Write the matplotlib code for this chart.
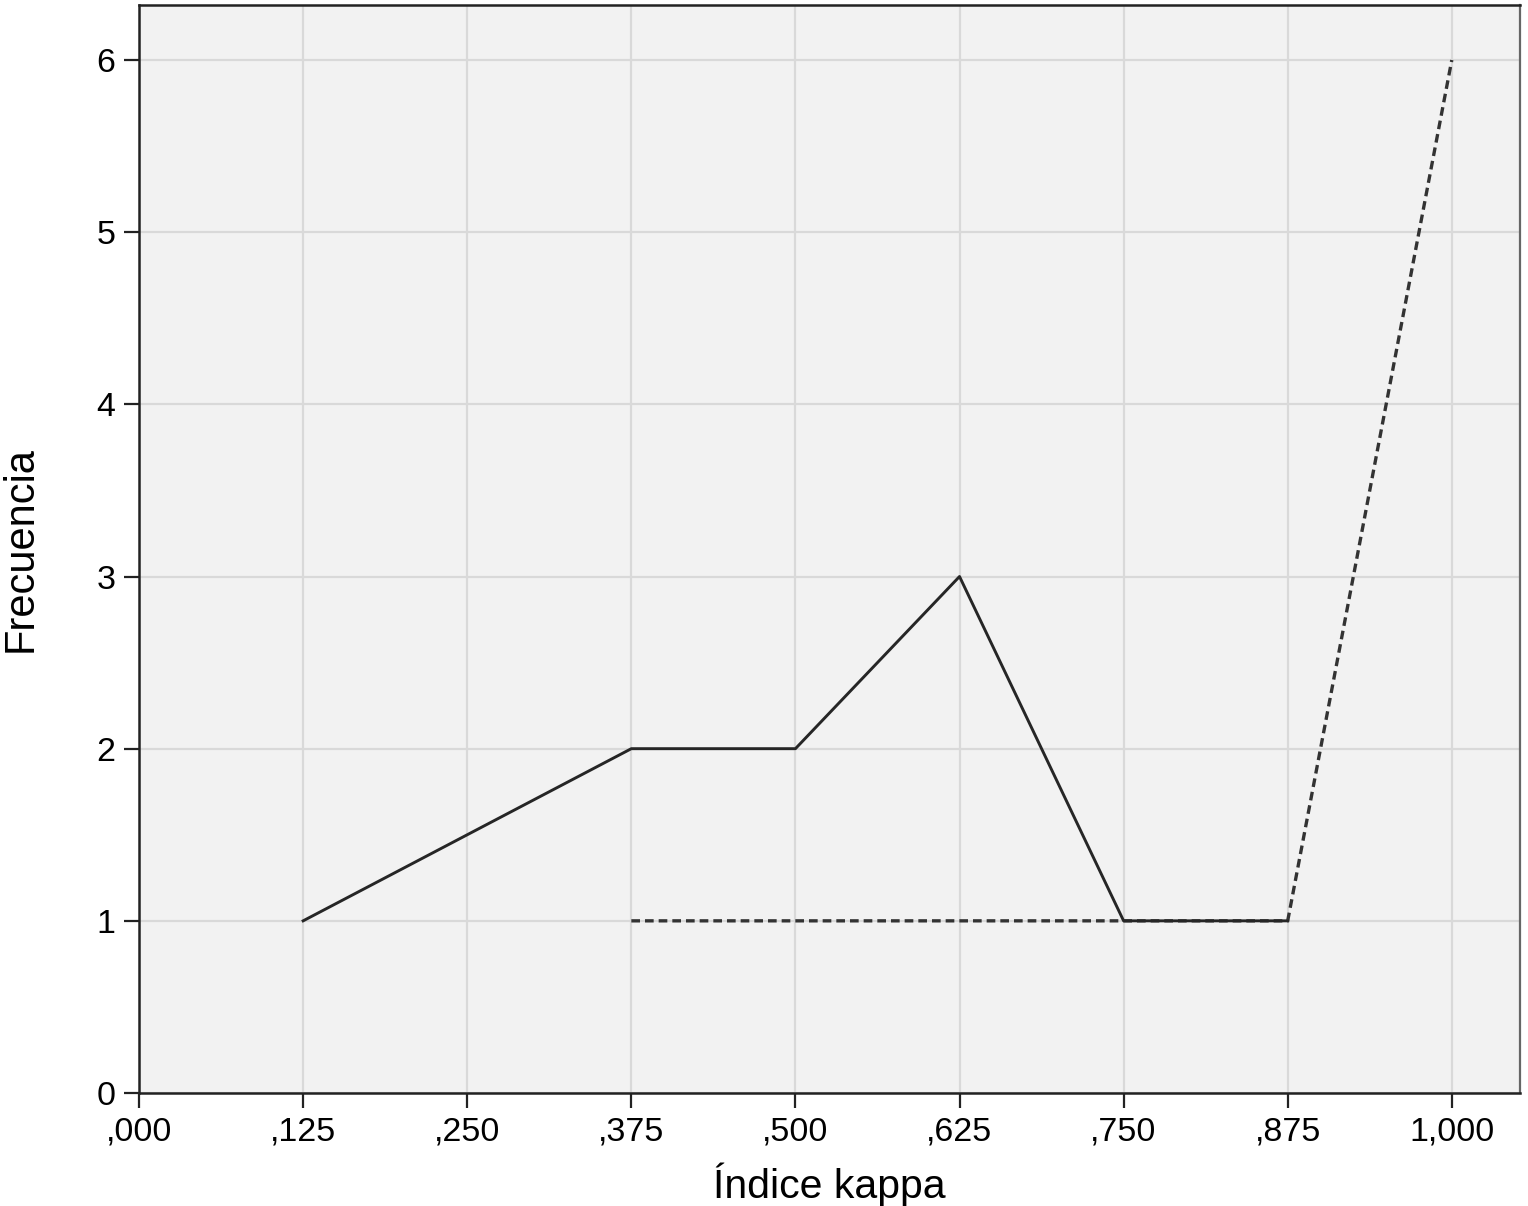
import matplotlib
matplotlib.use("Agg")
from matplotlib import pyplot as plt

plt.rcParams['font.family'] = ['Liberation Sans', 'DejaVu Sans']

# datos
x_solida = [0.125, 0.375, 0.500, 0.625, 0.750, 0.875]
y_solida = [1, 2, 2, 3, 1, 1]
x_puntos = [0.375, 0.500, 0.625, 0.750, 0.875, 1.000]
y_puntos = [1, 1, 1, 1, 1, 6]

ticks_x = [0, 0.125, 0.25, 0.375, 0.5, 0.625, 0.75, 0.875, 1.0]
etiquetas_x = [",000", ",125", ",250", ",375", ",500", ",625", ",750", ",875", "1,000"]
ticks_y = [0, 1, 2, 3, 4, 5, 6]

fig = plt.figure(figsize=(15.28, 12.06), dpi=100)
ax = fig.add_axes([0.091, 0.0937, 0.9038, 0.9022])
ax.set_facecolor("#f2f2f2")

ax.plot(x_puntos, y_puntos, color="#333333", lw=2.4, linestyle=(0, (2.6, 1.5)))
ax.plot(x_solida, y_solida, color="#262626", lw=2.1)

ax.set_xlim(0, 1.052)
ax.set_ylim(0, 6.32)
ax.set_xticks(ticks_x)
ax.set_xticklabels(etiquetas_x)
ax.set_yticks(ticks_y)
ax.grid(True, color="#d9d9d9", lw=1.6)
ax.set_axisbelow(True)

ax.tick_params(axis="both", labelsize=24.5, length=11, width=1.6, color="#222222", pad=6)
for lado in ["left", "bottom", "top"]:
    ax.spines[lado].set_linewidth(1.8)
    ax.spines[lado].set_color("#222222")
ax.spines["right"].set_linewidth(1.6)
ax.spines["right"].set_color("#666666")

ax.set_xlabel("Índice kappa", fontsize=29.5, labelpad=11)
ax.set_ylabel("Frecuencia", fontsize=30, labelpad=40)

fig.savefig("out.png", dpi=100)
